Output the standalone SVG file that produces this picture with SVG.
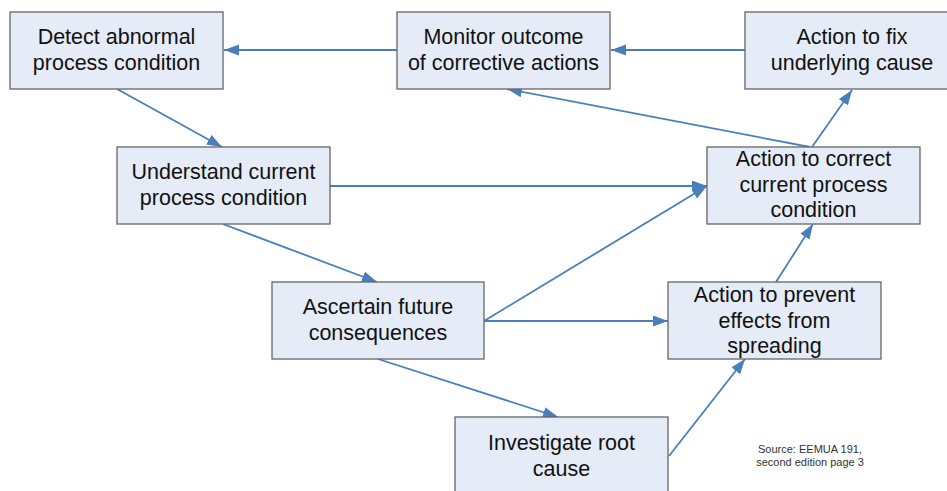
<svg xmlns="http://www.w3.org/2000/svg" width="947" height="491" viewBox="0 0 947 491">
<style>
.box{fill:#e6ecf7;stroke:#666;stroke-width:1.3}
.t{font-family:"Liberation Sans",Arial,sans-serif;font-size:21.5px;fill:#111;text-anchor:middle}
.src{font-family:"Liberation Sans",Arial,sans-serif;font-size:11px;fill:#333;text-anchor:middle}
.c{stroke:#4a7ebb;stroke-width:1.8;fill:none;marker-end:url(#ah)}
</style>
<defs>
<marker id="ah" markerUnits="userSpaceOnUse" markerWidth="16" markerHeight="12" refX="15" refY="5.5" orient="auto">
<path d="M0,0 L15,5.5 L0,11 z" fill="#4a7ebb"/>
</marker>
</defs>
<rect width="947" height="491" fill="#fff"/>
<g id="connectors">
<line class="c" x1="397" y1="50" x2="224" y2="50"/>
<line class="c" x1="745" y1="50" x2="611" y2="50"/>
<line class="c" x1="117" y1="89" x2="222" y2="147"/>
<line class="c" x1="330" y1="186" x2="707" y2="186"/>
<line class="c" x1="810" y1="147" x2="507" y2="89"/>
<line class="c" x1="812" y1="147" x2="852" y2="90"/>
<line class="c" x1="223" y1="224" x2="377" y2="282"/>
<line class="c" x1="484" y1="321" x2="707" y2="186"/>
<line class="c" x1="484" y1="321" x2="668" y2="321"/>
<line class="c" x1="378" y1="359" x2="558" y2="417"/>
<line class="c" x1="669" y1="456" x2="745" y2="359"/>
<line class="c" x1="776" y1="282" x2="813" y2="224"/>
</g>
<g id="detect">
<rect class="box" x="10" y="12" width="213" height="77"/>
<text class="t" x="116.5" y="44">Detect abnormal</text>
<text class="t" x="116.5" y="69.5">process condition</text>
</g>
<g id="monitor">
<rect class="box" x="397" y="12" width="213" height="77"/>
<text class="t" x="503.5" y="44">Monitor outcome</text>
<text class="t" x="503.5" y="69.5">of corrective actions</text>
</g>
<g id="fix">
<rect class="box" x="745" y="12" width="214" height="77"/>
<text class="t" x="852" y="44">Action to fix</text>
<text class="t" x="852" y="69.5">underlying cause</text>
</g>
<g id="understand">
<rect class="box" x="117" y="147" width="213" height="77"/>
<text class="t" x="223.5" y="179">Understand current</text>
<text class="t" x="223.5" y="204.5">process condition</text>
</g>
<g id="correct">
<rect class="box" x="707" y="147" width="213" height="77"/>
<text class="t" x="813.5" y="166">Action to correct</text>
<text class="t" x="813.5" y="191.5">current process</text>
<text class="t" x="813.5" y="217">condition</text>
</g>
<g id="ascertain">
<rect class="box" x="272" y="282" width="212" height="77"/>
<text class="t" x="378" y="314">Ascertain future</text>
<text class="t" x="378" y="339.5">consequences</text>
</g>
<g id="prevent">
<rect class="box" x="668" y="282" width="213" height="77"/>
<text class="t" x="774.5" y="302">Action to prevent</text>
<text class="t" x="774.5" y="327.5">effects from</text>
<text class="t" x="774.5" y="353">spreading</text>
</g>
<g id="investigate">
<rect class="box" x="455" y="417" width="213" height="80"/>
<text class="t" x="561.5" y="450">Investigate root</text>
<text class="t" x="561.5" y="475.5">cause</text>
</g>
<g id="source">
<text class="src" x="810" y="453">Source: EEMUA 191,</text>
<text class="src" x="810" y="466">second edition page 3</text>
</g>
</svg>
